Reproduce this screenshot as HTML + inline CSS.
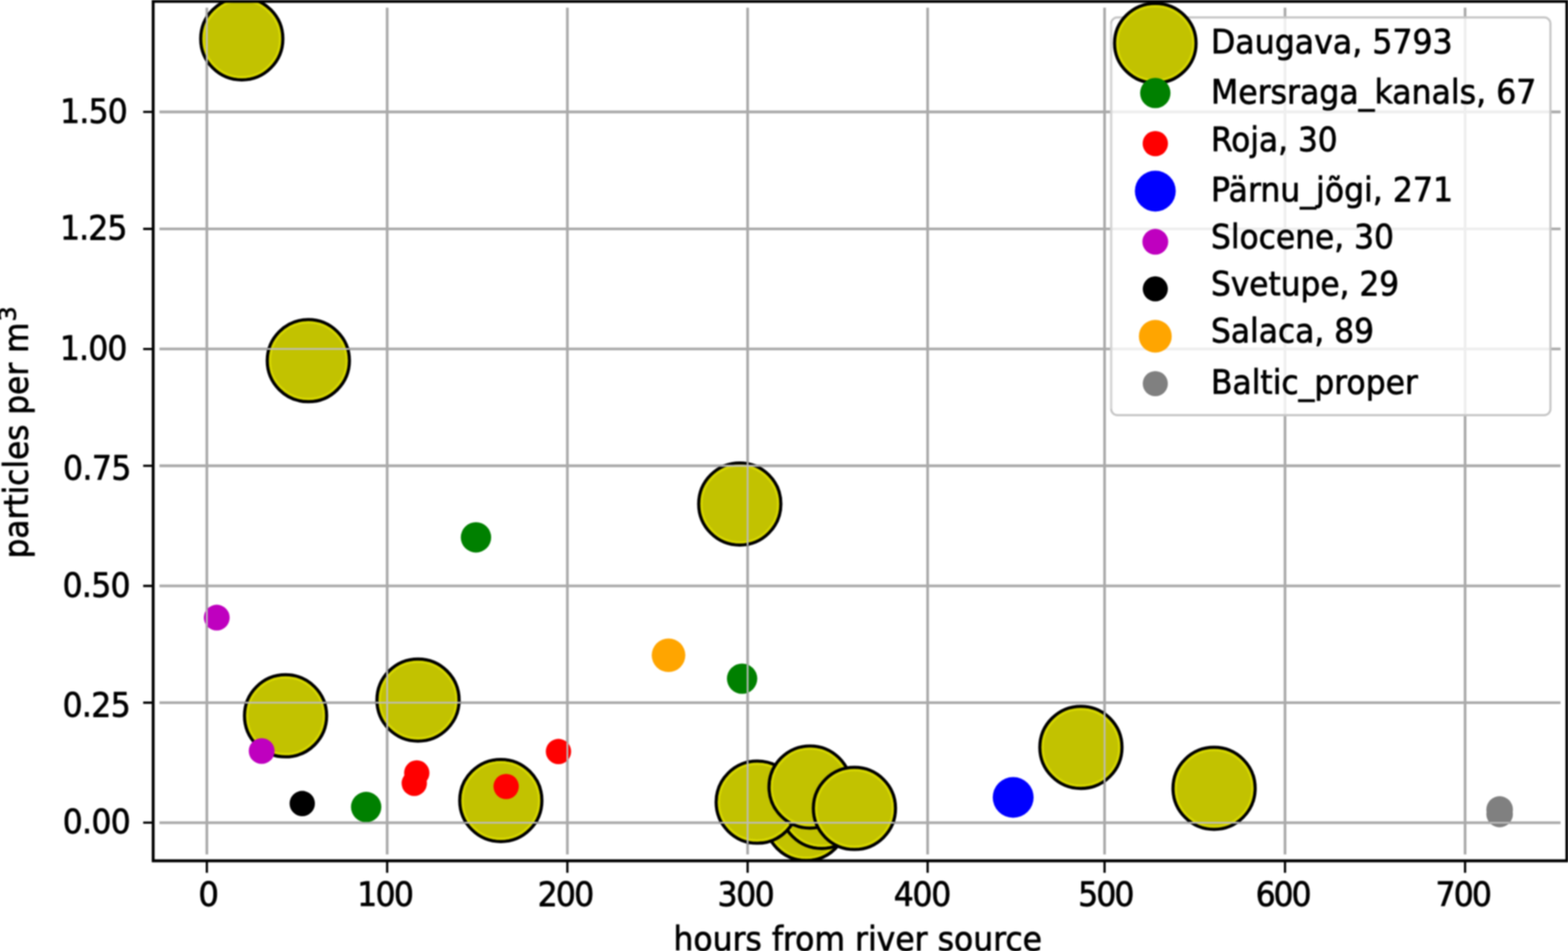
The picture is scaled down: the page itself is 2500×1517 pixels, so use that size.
<!DOCTYPE html>
<html><head><meta charset="utf-8"><style>html,body{margin:0;padding:0;background:#fff;overflow:hidden}svg{display:block}</style></head>
<body><svg width="2500" height="1517" viewBox="0 0 2500 1517"><rect width="2500" height="1517" fill="#fff"/><defs><filter id="soft" filterUnits="userSpaceOnUse" x="0" y="0" width="2500" height="1517" color-interpolation-filters="sRGB"><feGaussianBlur stdDeviation="0.8"/></filter><clipPath id="ax"><rect x="244.2" y="2.3" width="2254.0" height="1370.8"/></clipPath></defs><defs><clipPath id="circ"><circle cx="385.5" cy="61.9" r="68.00"/><circle cx="491.6" cy="575.3" r="68.00"/><circle cx="1179.5" cy="803.9" r="68.00"/><circle cx="455.3" cy="1141.8" r="68.00"/><circle cx="666.5" cy="1116.7" r="68.00"/><circle cx="798.5" cy="1276.9" r="68.00"/><circle cx="1285.5" cy="1307.3" r="68.00"/><circle cx="1310" cy="1288" r="68.00"/><circle cx="1207.3" cy="1279.6" r="68.00"/><circle cx="1291.6" cy="1255.4" r="68.00"/><circle cx="1362.3" cy="1289.6" r="68.00"/><circle cx="1723.4" cy="1192.2" r="68.00"/><circle cx="1935.7" cy="1257.5" r="68.00"/><circle cx="758.9" cy="857.2" r="24.2"/><circle cx="1183.2" cy="1082.6" r="24.2"/><circle cx="583.8" cy="1287.3" r="24.2"/><circle cx="664.5" cy="1233" r="20.2"/><circle cx="660.5" cy="1249.5" r="20.2"/><circle cx="807" cy="1254.6" r="20.2"/><circle cx="890.4" cy="1198.8" r="20.2"/><circle cx="1615.4" cy="1272" r="32.6"/><circle cx="345.6" cy="985.2" r="20.6"/><circle cx="417.2" cy="1198" r="20.6"/><circle cx="481.9" cy="1281.8" r="20.2"/><circle cx="1065.9" cy="1045.3" r="26.8"/><circle cx="2391" cy="1291.3" r="21.2"/><circle cx="2391" cy="1298.5" r="21.2"/></clipPath></defs><g filter="url(#soft)"><path d="M329.8 12.3V1363.1M617.3 12.3V1363.1M904.6 12.3V1363.1M1192.0 12.3V1363.1M1479.0 12.3V1363.1M1761.1 12.3V1363.1M2048.8 12.3V1363.1M2335.9 12.3V1363.1M254.2 1312.3H2488.2M254.2 1120.9H2488.2M254.2 934.6H2488.2M254.2 743.0H2488.2M254.2 556.7H2488.2M254.2 365.1H2488.2M254.2 178.5H2488.2" stroke="#aaaaaa" stroke-width="4.3" fill="none"/><g clip-path="url(#ax)"><circle cx="385.5" cy="61.9" r="65.50" fill="#c2c200" stroke="#000" stroke-width="5.0"/><circle cx="385.5" cy="61.9" r="60.80" fill="none" stroke="#d6d600" stroke-width="3.5"/><circle cx="491.6" cy="575.3" r="65.50" fill="#c2c200" stroke="#000" stroke-width="5.0"/><circle cx="491.6" cy="575.3" r="60.80" fill="none" stroke="#d6d600" stroke-width="3.5"/><circle cx="1179.5" cy="803.9" r="65.50" fill="#c2c200" stroke="#000" stroke-width="5.0"/><circle cx="1179.5" cy="803.9" r="60.80" fill="none" stroke="#d6d600" stroke-width="3.5"/><circle cx="455.3" cy="1141.8" r="65.50" fill="#c2c200" stroke="#000" stroke-width="5.0"/><circle cx="455.3" cy="1141.8" r="60.80" fill="none" stroke="#d6d600" stroke-width="3.5"/><circle cx="666.5" cy="1116.7" r="65.50" fill="#c2c200" stroke="#000" stroke-width="5.0"/><circle cx="666.5" cy="1116.7" r="60.80" fill="none" stroke="#d6d600" stroke-width="3.5"/><circle cx="798.5" cy="1276.9" r="65.50" fill="#c2c200" stroke="#000" stroke-width="5.0"/><circle cx="798.5" cy="1276.9" r="60.80" fill="none" stroke="#d6d600" stroke-width="3.5"/><circle cx="1285.5" cy="1307.3" r="65.50" fill="#c2c200" stroke="#000" stroke-width="5.0"/><circle cx="1285.5" cy="1307.3" r="60.80" fill="none" stroke="#d6d600" stroke-width="3.5"/><circle cx="1310" cy="1288" r="65.50" fill="#c2c200" stroke="#000" stroke-width="5.0"/><circle cx="1310" cy="1288" r="60.80" fill="none" stroke="#d6d600" stroke-width="3.5"/><circle cx="1207.3" cy="1279.6" r="65.50" fill="#c2c200" stroke="#000" stroke-width="5.0"/><circle cx="1207.3" cy="1279.6" r="60.80" fill="none" stroke="#d6d600" stroke-width="3.5"/><circle cx="1291.6" cy="1255.4" r="65.50" fill="#c2c200" stroke="#000" stroke-width="5.0"/><circle cx="1291.6" cy="1255.4" r="60.80" fill="none" stroke="#d6d600" stroke-width="3.5"/><circle cx="1362.3" cy="1289.6" r="65.50" fill="#c2c200" stroke="#000" stroke-width="5.0"/><circle cx="1362.3" cy="1289.6" r="60.80" fill="none" stroke="#d6d600" stroke-width="3.5"/><circle cx="1723.4" cy="1192.2" r="65.50" fill="#c2c200" stroke="#000" stroke-width="5.0"/><circle cx="1723.4" cy="1192.2" r="60.80" fill="none" stroke="#d6d600" stroke-width="3.5"/><circle cx="1935.7" cy="1257.5" r="65.50" fill="#c2c200" stroke="#000" stroke-width="5.0"/><circle cx="1935.7" cy="1257.5" r="60.80" fill="none" stroke="#d6d600" stroke-width="3.5"/><circle cx="758.9" cy="857.2" r="24.2" fill="#008000"/><circle cx="1183.2" cy="1082.6" r="24.2" fill="#008000"/><circle cx="583.8" cy="1287.3" r="24.2" fill="#008000"/><circle cx="664.5" cy="1233" r="20.2" fill="#ff0000"/><circle cx="660.5" cy="1249.5" r="20.2" fill="#ff0000"/><circle cx="807" cy="1254.6" r="20.2" fill="#ff0000"/><circle cx="890.4" cy="1198.8" r="20.2" fill="#ff0000"/><circle cx="1615.4" cy="1272" r="32.6" fill="#0000ff"/><circle cx="345.6" cy="985.2" r="20.6" fill="#bf00bf"/><circle cx="417.2" cy="1198" r="20.6" fill="#bf00bf"/><circle cx="481.9" cy="1281.8" r="20.2" fill="#000000"/><circle cx="1065.9" cy="1045.3" r="26.8" fill="#ffa500"/><circle cx="2391" cy="1291.3" r="21.2" fill="#808080"/><circle cx="2391" cy="1298.5" r="21.2" fill="#808080"/></g><path d="M329.8 12.3V1363.1M617.3 12.3V1363.1M904.6 12.3V1363.1M1192.0 12.3V1363.1M1479.0 12.3V1363.1M1761.1 12.3V1363.1M2048.8 12.3V1363.1M2335.9 12.3V1363.1M254.2 1312.3H2488.2M254.2 1120.9H2488.2M254.2 934.6H2488.2M254.2 743.0H2488.2M254.2 556.7H2488.2M254.2 365.1H2488.2M254.2 178.5H2488.2" stroke="#bcbcbc" stroke-width="2.8" fill="none" clip-path="url(#circ)"/><path d="M244.2 0.2999999999999998V1375.1M242.2 1373.1H2500.2M242.2 2.3H2500.2M2498.2 0.2999999999999998V1375.1" stroke="#000" stroke-width="4.6" fill="none"/><path d="M329.8 1373.1V1392.3M617.3 1373.1V1392.3M904.6 1373.1V1392.3M1192.0 1373.1V1392.3M1479.0 1373.1V1392.3M1761.1 1373.1V1392.3M2048.8 1373.1V1392.3M2335.9 1373.1V1392.3M244.2 1312.3H228.3M244.2 1120.9H228.3M244.2 934.6H228.3M244.2 743.0H228.3M244.2 556.7H228.3M244.2 365.1H228.3M244.2 178.5H228.3" stroke="#000" stroke-width="3.6" fill="none" stroke-linecap="butt"/><g font-family="DejaVu Sans, Liberation Sans, sans-serif" fill="#000" stroke="#000" stroke-width="1.1" stroke-linejoin="round"><text transform="translate(316.34,1445.20) scale(0.9571,1)" font-size="54.0">0</text><text transform="translate(569.38,1445.20) scale(0.9300,1)" font-size="54.0" letter-spacing="-2.85">100</text><text transform="translate(857.16,1445.20) scale(0.9300,1)" font-size="54.0" letter-spacing="-2.95">200</text><text transform="translate(1144.03,1445.20) scale(0.9300,1)" font-size="54.0" letter-spacing="-2.45">300</text><text transform="translate(1424.99,1445.20) scale(0.9300,1)" font-size="54.0" letter-spacing="-2.21">400</text><text transform="translate(1719.11,1445.20) scale(0.9300,1)" font-size="54.0" letter-spacing="-3.35">500</text><text transform="translate(2001.98,1445.20) scale(0.9300,1)" font-size="54.0" letter-spacing="-3.56">600</text><text transform="translate(2288.86,1445.20) scale(0.9300,1)" font-size="54.0" letter-spacing="-3.22">700</text><text transform="translate(95.68,195.90) scale(0.9300,1)" font-size="54.0" letter-spacing="-1.31">1.50</text><text transform="translate(95.68,382.00) scale(0.9300,1)" font-size="54.0" letter-spacing="-1.56">1.25</text><text transform="translate(95.58,573.50) scale(0.9300,1)" font-size="54.0" letter-spacing="-1.52">1.00</text><text transform="translate(100.54,764.90) scale(0.9300,1)" font-size="54.0" letter-spacing="-1.01">0.75</text><text transform="translate(99.64,951.50) scale(0.9300,1)" font-size="54.0" letter-spacing="-1.15">0.50</text><text transform="translate(99.64,1142.80) scale(0.9300,1)" font-size="54.0" letter-spacing="-1.11">0.25</text><text transform="translate(100.04,1329.20) scale(0.9300,1)" font-size="54.0" letter-spacing="-1.22">0.00</text><text transform="translate(1073.69,1515.50) scale(0.9287,1)" font-size="54.0">hours from river source</text><text transform="translate(43.80,890.78) rotate(-90) scale(0.9212,1)" font-size="54.0">particles per m</text><text transform="translate(24.7,512.74) rotate(-90)" font-size="37.80">3</text></g><rect x="1771.6" y="27.8" width="700.4000000000001" height="634.5" rx="10" ry="10" fill="#fff" fill-opacity="0.8" stroke="#c6c6c6" stroke-width="3.4"/><path d="M1771.6 37.8V652.3" stroke="#d4d4d4" stroke-width="3.4" fill="none"/><ellipse cx="1842" cy="69.0" rx="65.00" ry="63.50" fill="#c2c200" stroke="#000" stroke-width="5.0"/><ellipse cx="1842" cy="69.0" rx="60.30" ry="58.80" fill="none" stroke="#d6d600" stroke-width="3.5"/><circle cx="1842" cy="148.4" r="24.2" fill="#008000"/><circle cx="1842" cy="229.1" r="20.2" fill="#ff0000"/><circle cx="1842" cy="304.8" r="32.6" fill="#0000ff"/><circle cx="1842" cy="385.7" r="20.6" fill="#bf00bf"/><circle cx="1842" cy="460.8" r="20.0" fill="#000000"/><circle cx="1842" cy="536.4" r="26.2" fill="#ffa500"/><circle cx="1842" cy="612" r="20.0" fill="#808080"/><g font-family="DejaVu Sans, Liberation Sans, sans-serif" fill="#000" stroke="#000" stroke-width="1.1" stroke-linejoin="round"><text transform="translate(1930.79,84.50) scale(0.9331,1)" font-size="54.0">Daugava, 5793</text><text transform="translate(1930.79,165.30) scale(0.9319,1)" font-size="54.0">Mersraga_kanals, 67</text><text transform="translate(1930.79,240.90) scale(0.9211,1)" font-size="54.0">Roja, 30</text><text transform="translate(1930.79,320.70) scale(0.9307,1)" font-size="54.0">Pärnu_jõgi, 271</text><text transform="translate(1930.79,395.70) scale(0.9237,1)" font-size="54.0">Slocene, 30</text><text transform="translate(1930.79,471.40) scale(0.9221,1)" font-size="54.0">Svetupe, 29</text><text transform="translate(1930.79,546.00) scale(0.9246,1)" font-size="54.0">Salaca, 89</text><text transform="translate(1930.79,627.60) scale(0.9262,1)" font-size="54.0">Baltic_proper</text></g></g></svg></body></html>
